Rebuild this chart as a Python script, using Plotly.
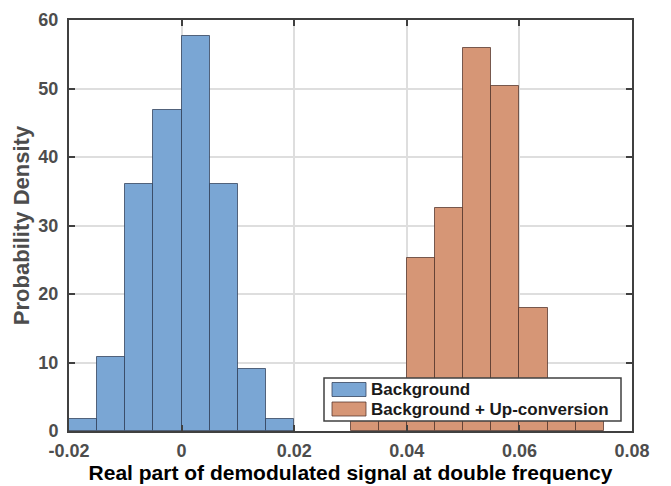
import plotly.graph_objects as go

# ---- data ----
bg_edges = [-0.02, -0.015, -0.01, -0.005, 0.0, 0.005, 0.01, 0.015, 0.02]
bg_density = [1.8, 10.8, 36.0, 46.9, 57.7, 36.0, 9.0, 1.8]

up_edges = [0.03, 0.035, 0.04, 0.045, 0.05, 0.055, 0.06, 0.065, 0.07, 0.075]
up_density = [3.6, 5.4, 25.2, 32.5, 55.9, 50.4, 18.0, 3.6, 5.4]

x_ticks = [-0.02, 0.0, 0.02, 0.04, 0.06, 0.08]
x_tick_labels = ["-0.02", "0", "0.02", "0.04", "0.06", "0.08"]
y_ticks = [0, 10, 20, 30, 40, 50, 60]

series_names = ["Background", "Background + Up-conversion"]
fill_colors = ["#7aa6d4", "#d69676"]
edge_colors = ["rgba(45,60,85,0.75)", "rgba(80,50,40,0.75)"]

W, H = 671, 486
L, R, T, B = 69, 39, 20, 55
PW, PH = W - L - R, H - T - B


def centers(edges):
    return [(a + b) / 2 for a, b in zip(edges[:-1], edges[1:])]


def widths(edges):
    return [b - a for a, b in zip(edges[:-1], edges[1:])]


fig = go.Figure()
for edges, dens, fc, ec, name in [
    (bg_edges, bg_density, fill_colors[0], edge_colors[0], series_names[0]),
    (up_edges, up_density, fill_colors[1], edge_colors[1], series_names[1]),
]:
    fig.add_trace(go.Bar(
        x=centers(edges), y=dens, width=widths(edges), name=name,
        marker=dict(color=fc, line=dict(color=ec, width=1)),
        showlegend=False,
    ))

axis_color = "#404040"
FONT = "Liberation Sans, Arial, sans-serif"
tick_font = dict(family=FONT, size=18, color="#4d4d4d", weight="bold")

fig.update_xaxes(
    range=[-0.02, 0.08], tickvals=x_ticks, ticktext=x_tick_labels,
    showline=True, linecolor=axis_color, linewidth=2, mirror="ticks",
    ticks="inside", ticklen=6, tickwidth=2, tickcolor=axis_color,
    showgrid=True, gridcolor="#dedede", gridwidth=1.5, zeroline=False,
    tickfont=tick_font, ticklabelstandoff=2, automargin=False,
    title=dict(text="Real part of demodulated signal at double frequency",
               font=dict(family=FONT, size=21, color="#000000", weight="bold"),
               standoff=6),
)
fig.update_yaxes(
    range=[0, 60], tickvals=y_ticks,
    showline=True, linecolor=axis_color, linewidth=2, mirror="ticks",
    ticks="inside", ticklen=6, tickwidth=2, tickcolor=axis_color,
    showgrid=True, gridcolor="#dedede", gridwidth=1.5, zeroline=False,
    tickfont=tick_font, ticklabelstandoff=5, automargin=False,
    title=dict(text="Probability Density",
               font=dict(family=FONT, size=22, color="#4d4d4d", weight="bold"),
               standoff=3),
)


# ---- custom legend (MATLAB-style) ----
def px(x):
    return (x - L) / PW


def py(y):
    return (H - B - y) / PH


shapes = [dict(type="rect", xref="paper", yref="paper",
               x0=px(324), x1=px(621), y0=py(421), y1=py(378),
               fillcolor="white", line=dict(color="#404040", width=1.5), layer="above")]
rows = [(382.5, 396.5), (402, 416)]
annotations = []
for (ya, yb), fc, ec, name in zip(rows, fill_colors, edge_colors, series_names):
    shapes.append(dict(type="rect", xref="paper", yref="paper",
                       x0=px(332), x1=px(366), y0=py(yb), y1=py(ya),
                       fillcolor=fc, line=dict(color=ec, width=1), layer="above"))
    annotations.append(dict(xref="paper", yref="paper", x=px(369), y=py((ya + yb) / 2),
                            text=name, showarrow=False,
                            xanchor="left", yanchor="middle",
                            font=dict(family=FONT, size=17, color="#1a1a1a", weight="bold")))

fig.update_layout(
    width=W, height=H,
    margin=dict(l=L, r=R, t=T, b=B, pad=0),
    paper_bgcolor="white", plot_bgcolor="white",
    bargap=0, barmode="overlay",
    shapes=shapes, annotations=annotations,
    showlegend=False,
)

fig.write_html("out.html")
